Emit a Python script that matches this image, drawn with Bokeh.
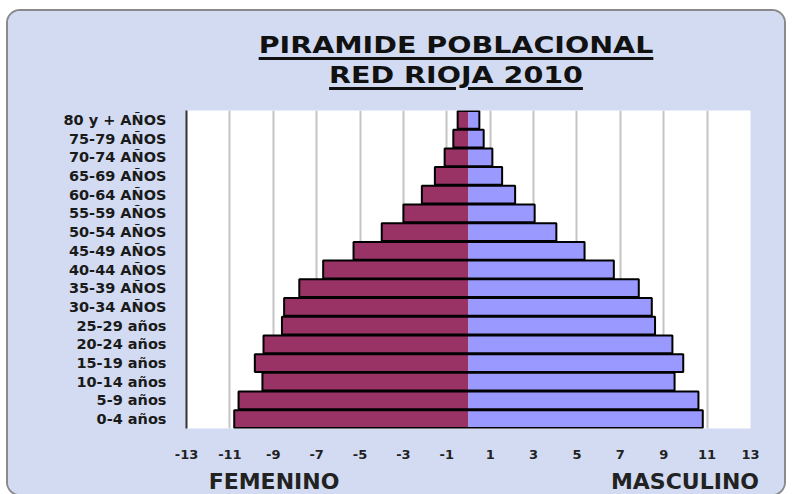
from bokeh.plotting import figure
from bokeh.models import Div, FactorRange, Range1d, FixedTicker
from bokeh.layouts import column
from bokeh.embed import file_html
from bokeh.resources import INLINE

# ---- data (bottom to top) ----
age_groups = ["0-4 años", "5-9 años", "10-14 años", "15-19 años", "20-24 años",
              "25-29 años", "30-34 AÑOS", "35-39 AÑOS", "40-44 AÑOS", "45-49 AÑOS",
              "50-54 AÑOS", "55-59 AÑOS", "60-64 AÑOS", "65-69 AÑOS", "70-74 AÑOS",
              "75-79 AÑOS", "80 y + AÑOS"]
femenino = [10.8, 10.6, 9.5, 9.85, 9.45, 8.6, 8.5, 7.8, 6.7, 5.3, 4.0, 3.0, 2.15, 1.55, 1.1, 0.7, 0.5]
masculino = [10.8, 10.6, 9.5, 9.9, 9.4, 8.6, 8.45, 7.85, 6.7, 5.35, 4.05, 3.05, 2.15, 1.55, 1.1, 0.7, 0.5]
x_ticks = [-13, -11, -9, -7, -5, -3, -1, 1, 3, 5, 7, 9, 11, 13]
x_tick_labels = ["-13", "-11", "-9", "-7", "-5", "-3", "-1", "1", "3", "5", "7", "9", "11", "13"]
title_lines = ["PIRAMIDE POBLACIONAL", "RED RIOJA 2010"]
side_labels = ["FEMENINO", "MASCULINO"]

BG = "#d2dbf2"
FONT = "DejaVu Sans"

neg_f = [-v for v in femenino]

p = figure(width=776, height=367, y_range=FactorRange(factors=age_groups),
           x_range=Range1d(-13, 13), output_backend="svg", toolbar_location=None,
           min_border_left=178, min_border_right=34, min_border_top=7, min_border_bottom=42)
p.background_fill_color = "white"
p.border_fill_color = BG
p.outline_line_color = None

# fills
p.hbar(y=age_groups, left=neg_f, right=0, height=0.95, fill_color="#993366", line_color=None)
p.hbar(y=age_groups, left=0, right=masculino, height=0.95, fill_color="#9999FF", line_color=None)
# outlines of the whole bar
p.hbar(y=age_groups, left=neg_f, right=masculino, height=0.95, fill_color=None,
       line_color="black", line_width=2)

p.xaxis.ticker = FixedTicker(ticks=x_ticks)
p.xaxis.major_label_overrides = {t: s for t, s in zip(x_ticks, x_tick_labels)}
p.xaxis.axis_line_color = None
p.xaxis.major_tick_line_color = None
p.xaxis.minor_tick_line_color = None
p.xaxis.major_label_text_font = FONT
p.xaxis.major_label_text_font_style = "bold"
p.xaxis.major_label_text_font_size = "13px"
p.xaxis.major_label_text_color = "#222222"
p.xaxis.major_label_standoff = 15

p.yaxis.axis_line_color = "#333333"
p.yaxis.axis_line_width = 2
p.yaxis.major_tick_line_color = None
p.yaxis.major_tick_out = 0
p.yaxis.major_label_standoff = 20
p.yaxis.major_label_text_font = FONT
p.yaxis.major_label_text_font_style = "bold"
p.yaxis.major_label_text_font_size = "14.5px"
p.yaxis.major_label_text_color = "#1a1a1a"

p.xgrid.grid_line_color = "#c4c4c4"
p.xgrid.grid_line_width = 2
p.ygrid.grid_line_color = None

title_html = "<br>".join(
    '<span style="text-decoration: underline; text-decoration-thickness: 3px; '
    'text-underline-offset: 4px;">%s</span>' % t for t in title_lines)
div = Div(text='<div style="width:664px; margin-left:116px; text-align:center; '
               'font-family:\'DejaVu Sans\'; font-weight:bold; font-size:23px; line-height:30px; '
               'color:#111; padding-top:19px; transform:scaleX(1.24); transform-origin:center;">%s</div>'
               % title_html,
          width=776, height=92, margin=(0, 0, 0, 0), styles={"background-color": BG})

side_html = "".join(
    '<span style="position:absolute; left:%dpx; top:0; transform:translateX(-50%%);">%s</span>'
    % (cx, t) for cx, t in zip([266, 677], side_labels))
div_bottom = Div(text='<div style="position:relative; width:776px; height:24px; '
                      'font-family:\'DejaVu Sans\'; font-weight:bold; font-size:22px; '
                      'line-height:24px; color:#222;">%s</div>' % side_html,
                 width=776, height=24, margin=(0, 0, 0, 0), styles={"background-color": BG})

layout = column(div, p, div_bottom, spacing=0,
                styles={"background-color": BG, "border": "2px solid #8a8a8a",
                        "border-radius": "14px", "overflow": "hidden",
                        "margin-left": "6px", "margin-top": "9px"})

open("out.html", "w").write(file_html(layout, INLINE))
